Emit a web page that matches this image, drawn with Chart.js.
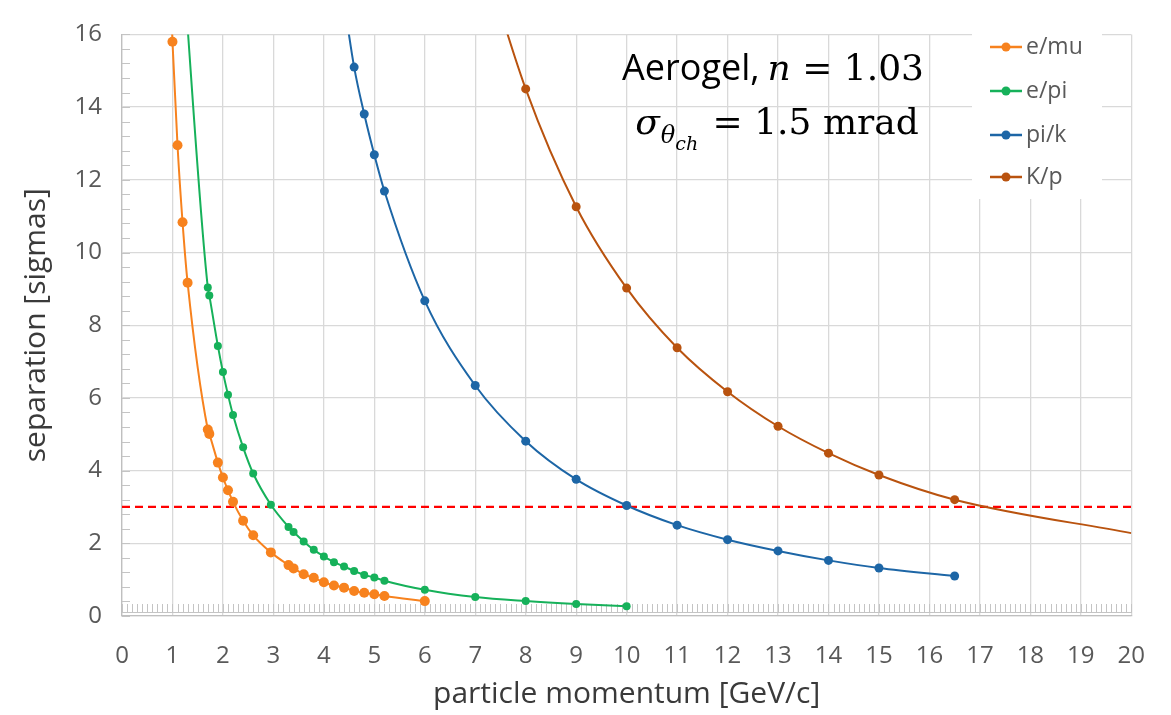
<!DOCTYPE html>
<html>
<head>
<meta charset="utf-8">
<script src="https://cdn.jsdelivr.net/npm/chart.js@4.4.1/dist/chart.umd.min.js"></script>
<style>
  html, body { margin: 0; padding: 0; background: #fff; }
</style>
</head>
<body>
<canvas id="sepChart" width="1171" height="715"></canvas>
<script>
// separation vs momentum, aerogel RICH
const emuMomentum = [0.9, 1.0, 1.1, 1.2, 1.3, 1.7, 1.73, 1.9, 2.0, 2.1, 2.2, 2.4, 2.6, 2.95,
    3.3, 3.4, 3.6, 3.8, 4.0, 4.2, 4.4, 4.6, 4.8, 5.0, 5.2, 6.0];
const emuSeparation = [19.5, 15.8, 12.95, 10.83, 9.17, 5.13, 5.01, 4.22, 3.81, 3.46, 3.14, 2.62, 2.22, 1.75,
    1.40, 1.31, 1.15, 1.05, 0.93, 0.84, 0.78, 0.69, 0.64, 0.60, 0.55, 0.41];

const epiMomentum = [1.2, 1.7, 1.73, 1.9, 2.0, 2.1, 2.2, 2.4, 2.6, 2.95, 3.3, 3.4, 3.6, 3.8,
    4.0, 4.2, 4.4, 4.6, 4.8, 5.0, 5.2, 6, 7, 8, 9, 10];
const epiSeparation = [18.1, 9.04, 8.82, 7.43, 6.71, 6.09, 5.53, 4.64, 3.92, 3.06, 2.45, 2.31, 2.05, 1.82,
    1.64, 1.48, 1.36, 1.24, 1.13, 1.06, 0.97, 0.72, 0.52, 0.41, 0.33, 0.27];

const pikMomentum = [4.4, 4.6, 4.8, 5.0, 5.2, 6, 7, 8, 9, 10, 11, 12, 13, 14, 15, 16.5];
const pikSeparation = [16.9, 15.1, 13.81, 12.69, 11.69, 8.67, 6.34, 4.81, 3.76, 3.04, 2.50, 2.10, 1.79, 1.53, 1.32, 1.10];

const kpMomentum = [7, 8, 9, 10, 11, 12, 13, 14, 15, 16.5, 20];
const kpSeparation = [18.9, 14.5, 11.26, 9.02, 7.38, 6.17, 5.22, 4.48, 3.88, 3.20, 2.28];

const thresholdMomentum = [0, 20];
const thresholdSeparation = [3, 3];

const seriesLabels = ['e/mu', 'e/pi', 'pi/k', 'K/p'];
const seriesColors = ['#f7821e', '#16b15a', '#1d66a6', '#b9530f'];

function pts(xs, ys) {
    return xs.map((x, i) => ({ x: x, y: ys[i] }));
}

// little tick marks along the axes, like the spreadsheet version
const minorTicks = {
    id: 'minorTicks',
    beforeDatasetsDraw(chart) {
        const { ctx, scales: { x, y } } = chart;
        ctx.save();
        ctx.strokeStyle = '#c4c4c4';
        ctx.lineWidth = 1;
        ctx.beginPath();
        for (let i = 0; i <= 200; i++) {
            const px = Math.round(x.getPixelForValue(i / 10)) + 0.5;
            ctx.moveTo(px, y.bottom - 3);
            ctx.lineTo(px, y.bottom - 12);
        }
        ctx.moveTo(x.left, Math.round(y.bottom) - 3.5);
        ctx.lineTo(x.right, Math.round(y.bottom) - 3.5);
        for (let i = 0; i <= 40; i++) {
            const py = Math.round(y.getPixelForValue(i * 0.4)) + 0.5;
            ctx.moveTo(x.left, py);
            ctx.lineTo(x.left + 8, py);
        }
        ctx.stroke();
        ctx.restore();
    }
};

// legend sits inside the plot on a white box
const boxLegend = {
    id: 'boxLegend',
    afterDatasetsDraw(chart) {
        const ctx = chart.ctx;
        const rows = [47, 91, 135, 177];
        ctx.save();
        ctx.fillStyle = '#ffffff';
        ctx.fillRect(972, 25, 130, 174);
        ctx.font = '23px "Open Sans"';
        ctx.textBaseline = 'middle';
        ctx.textAlign = 'left';
        seriesLabels.forEach((lab, i) => {
            const yy = rows[i];
            ctx.strokeStyle = seriesColors[i];
            ctx.lineWidth = 2.5;
            ctx.beginPath();
            ctx.moveTo(990, yy);
            ctx.lineTo(1022, yy);
            ctx.stroke();
            ctx.fillStyle = seriesColors[i];
            ctx.beginPath();
            ctx.arc(1006, yy, 4.5, 0, Math.PI * 2);
            ctx.fill();
            ctx.fillStyle = '#595959';
            ctx.fillText(lab, 1026, yy);
        });
        ctx.restore();
    }
};

function drawRuns(ctx, runs, cx, baseY) {
    let total = 0;
    runs.forEach(r => {
        ctx.font = r.font;
        r.w = ctx.measureText(r.text).width;
        total += r.w + (r.gap || 0);
    });
    let xx = cx - total / 2;
    runs.forEach(r => {
        ctx.font = r.font;
        ctx.fillText(r.text, xx, baseY + (r.dy || 0));
        xx += r.w + (r.gap || 0);
    });
}

const labelText = {
    id: 'labelText',
    afterDraw(chart) {
        const ctx = chart.ctx;
        ctx.save();
        ctx.fillStyle = '#000';
        ctx.textBaseline = 'alphabetic';
        ctx.textAlign = 'left';
        const serif = '"DejaVu Serif"';
        drawRuns(ctx, [
            { text: 'Aerogel,', font: '36px "Open Sans"', gap: 8 },
            { text: 'n', font: 'italic 36px ' + serif },
            { text: ' = 1.03', font: '36px ' + serif }
        ], 773, 80);
        drawRuns(ctx, [
            { text: 'σ', font: 'italic 36px ' + serif, gap: 1 },
            { text: 'θ', font: 'italic 24px ' + serif, dy: 9 },
            { text: 'ch', font: 'italic 19px ' + serif, dy: 16, gap: 3 },
            { text: ' = 1.5 mrad', font: '36px ' + serif }
        ], 777, 134);
        ctx.restore();
    }
};

const ctx = document.getElementById('sepChart').getContext('2d');

const curves = [
    pts(emuMomentum, emuSeparation),
    pts(epiMomentum, epiSeparation),
    pts(pikMomentum, pikSeparation),
    pts(kpMomentum, kpSeparation)
];
const radii = [5, 4, 4.5, 4.5];

const datasets = curves.map((d, i) => ({
    label: seriesLabels[i],
    data: d,
    borderColor: seriesColors[i],
    backgroundColor: seriesColors[i],
    borderWidth: 2,
    cubicInterpolationMode: 'monotone',
    // K/p runs on to the edge without a marker at the end
    pointRadius: c => (i === 3 && c.dataIndex === d.length - 1) ? 0 : radii[i],
    pointBorderWidth: 0,
    fill: false
}));

datasets.push({
    label: 'threshold',
    data: pts(thresholdMomentum, thresholdSeparation),
    borderColor: '#ff0000',
    borderWidth: 2.2,
    borderDash: [8, 5],
    pointRadius: 0,
    fill: false
});

new Chart(ctx, {
    type: 'line',
    data: { datasets: datasets },
    options: {
        responsive: false,
        animation: false,
        layout: { padding: { left: 0, right: 39, top: 19.5, bottom: 0 } },
        plugins: {
            legend: { display: false },
            tooltip: { enabled: false }
        },
        scales: {
            x: {
                type: 'linear',
                min: 0,
                max: 20,
                afterFit: s => { s.height = 99; },
                ticks: { stepSize: 1, padding: 26, color: '#595959', font: { family: 'Open Sans', size: 24 } },
                grid: { color: '#d9d9d9', lineWidth: 1.3, drawTicks: false },
                border: { color: '#bfbfbf', width: 1.3 },
                title: {
                    display: true,
                    text: 'particle momentum [GeV/c]',
                    color: '#3a3a3a',
                    font: { family: 'Open Sans', size: 30 },
                    padding: { top: 0, bottom: 3 }
                }
            },
            y: {
                min: 0,
                max: 16,
                afterFit: s => { s.width = 122; },
                ticks: { stepSize: 2, padding: 20, color: '#595959', font: { family: 'Open Sans', size: 24 } },
                grid: { color: '#d9d9d9', lineWidth: 1.3, drawTicks: false },
                border: { color: '#bfbfbf', width: 1.3 },
                title: {
                    display: true,
                    text: 'separation [sigmas]',
                    color: '#3a3a3a',
                    font: { family: 'Open Sans', size: 30 },
                    padding: { top: 18, bottom: 0 }
                }
            }
        }
    },
    plugins: [minorTicks, boxLegend, labelText]
});
</script>
</body>
</html>
